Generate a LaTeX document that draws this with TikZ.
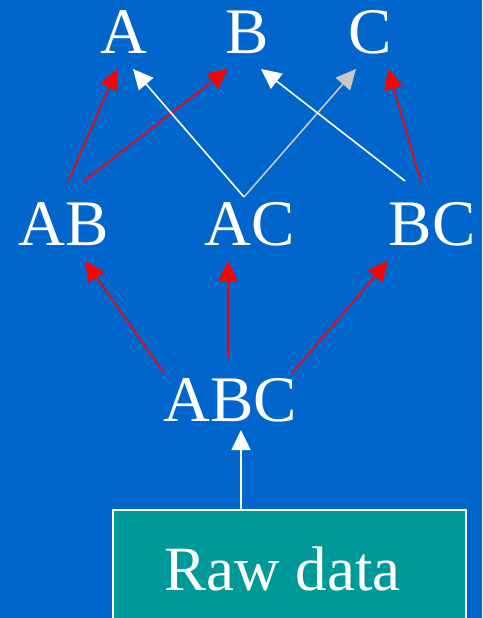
\documentclass[tikz,border=0pt]{standalone}
\usepackage{fontspec}
\setmainfont{Liberation Serif}
\usetikzlibrary{arrows.meta,calc}
\definecolor{bgblue}{HTML}{0066CC}
\definecolor{teal}{HTML}{009999}
\definecolor{arrred}{HTML}{FF0000}
\definecolor{arrgray}{HTML}{C8C8C8}
\begin{document}
\begin{tikzpicture}[x=1pt,y=-1pt,
  lbl/.style={text=white,font=\fontsize{65}{70}\selectfont,inner sep=0pt,anchor=base},
  conn/.style={line width=1.6pt,-{Triangle[length=20pt,width=19pt]}},
  redc/.style={conn,draw=arrred,fill=arrred},
  whitec/.style={conn,draw=white,fill=white},
  grayc/.style={conn,draw=arrgray,fill=arrgray},
  rawbox/.style={draw=white,line width=1.5pt,fill=teal,text=white,
    font=\fontsize{63}{68}\selectfont,minimum width=353pt,minimum height=118pt,anchor=north}]
\fill[bgblue] (0,0) rectangle (482,618);
\useasboundingbox (0,0) rectangle (482,618);
\node[lbl] (A) at (123.5,53) {A};
\node[lbl] (B) at (247,53) {B};
\node[lbl] (C) at (370,53) {C};
\node[lbl] (AB) at (63.5,245) {AB};
\node[lbl] (AC) at (250,245) {AC};
\node[lbl] (BC) at (432,245) {BC};
\node[lbl] (ABC) at (230,421) {ABC};
\node[rawbox] (raw) at (289.5,509) {\hspace*{-14pt}Raw data};
% level 2 -> level 1
\draw[redc] ($(AB.base)+(4.5,-63)$) -- ($(A.base)+(-6.5,16)$);
\draw[redc] ($(AB.base)+(20.5,-64)$) -- ($(B.base)+(-19,16)$);
\draw[whitec] ($(AC.base)+(-6,-48)$) -- ($(A.base)+(9.5,16)$);
\draw[grayc] ($(AC.base)+(-6,-48)$) -- ($(C.base)+(-14,16)$);
\draw[whitec] ($(BC.base)+(-27,-64)$) -- ($(B.base)+(14,16)$);
\draw[redc] ($(BC.base)+(-11,-63)$) -- ($(C.base)+(18,16)$);
% level 3 -> level 2
\draw[redc] ($(ABC.base)+(-66,-48)$) -- ($(AB.base)+(21.5,16)$);
\draw[redc] ($(ABC.base)+(-2,-64)$) -- ($(AC.base)+(-22,16)$);
\draw[redc] ($(ABC.base)+(62,-48)$) -- ($(BC.base)+(-44,16)$);
% raw -> ABC
\draw[whitec] ($(raw.north)+(-48.5,0)$) -- ($(ABC.base)+(11,9)$);
\end{tikzpicture}
\end{document}
